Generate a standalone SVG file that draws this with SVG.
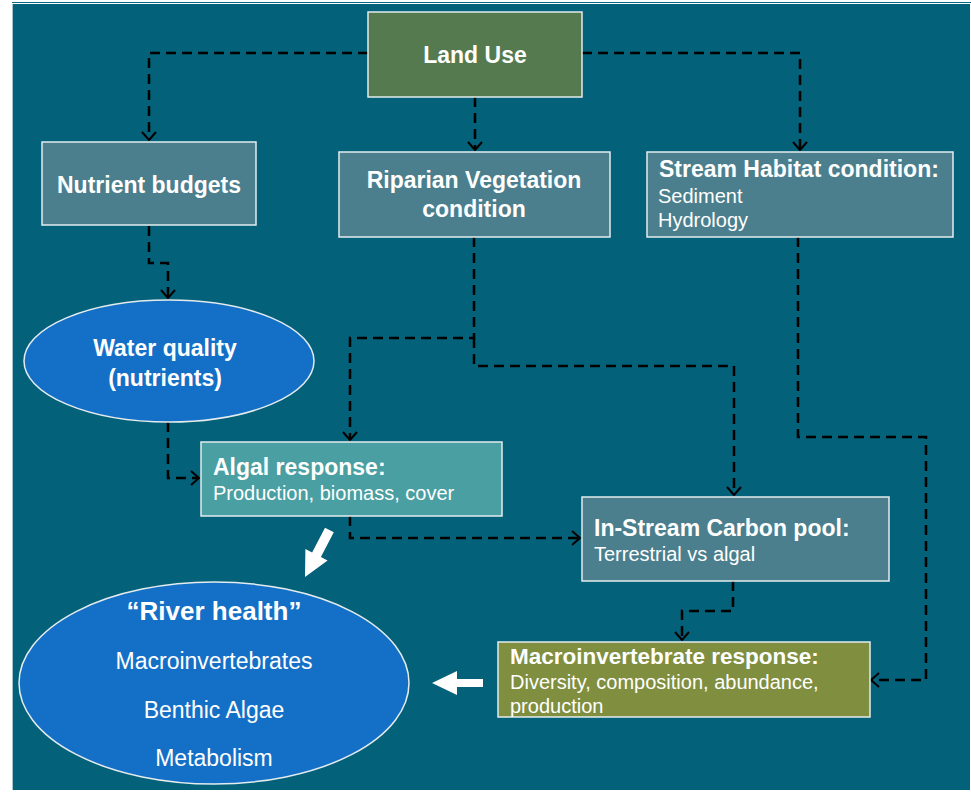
<svg xmlns="http://www.w3.org/2000/svg" width="971" height="792" viewBox="0 0 971 792">
  <style>
    .box { stroke: #e4ecee; stroke-width: 1.5; }
    .grey { fill: #4b7f8d; }
    .oval { fill: #1470c6; stroke: #e4ecee; stroke-width: 1.5; }
    .link { fill: none; stroke: #000; stroke-width: 2.5; stroke-dasharray: 10 6; marker-end: url(#head); }
    text { font-family: "Liberation Sans", Arial, sans-serif; fill: #ffffff; }
    .b { font-weight: bold; font-size: 23px; }
    .r { font-size: 20px; }
    .c { text-anchor: middle; }
  </style>
  <defs>
    <marker id="head" viewBox="-10 -8 12 16" refX="0" refY="0" markerWidth="12" markerHeight="16" markerUnits="userSpaceOnUse" orient="auto">
      <path d="M-8,-7 L0,0 L-8,7" fill="none" stroke="#000" stroke-width="2"/>
    </marker>
  </defs>

  <!-- page and slide background -->
  <rect x="0" y="0" width="971" height="792" fill="#ffffff"/>
  <line x1="12" y1="2.5" x2="971" y2="2.5" stroke="#0c6a85" stroke-width="1"/>
  <rect x="12" y="4" width="958" height="786" fill="#03617a"/>
  <line x1="12.5" y1="4" x2="12.5" y2="790" stroke="#a9c4cc" stroke-width="1"/>

  <!-- connectors -->
  <g id="connectors">
    <path class="link" d="M368,53 H149 V140"/>
    <path class="link" d="M475,97 V150"/>
    <path class="link" d="M582,53 H800 V150"/>
    <path class="link" d="M149,226 V263 H168 V298"/>
    <path class="link" d="M168,422 V478 H199"/>
    <path class="link" d="M474,237 V338 H350 V440"/>
    <path class="link" d="M474,338 V366 H734 V495"/>
    <path class="link" d="M798,237 V437 H926 V680 H871"/>
    <path class="link" d="M350,516 V538 H580"/>
    <path class="link" d="M733,581 V611 H682 V640"/>
    <!-- white block arrows into river health -->
    <polygon fill="#ffffff" points="333.8,532.3 320.9,557.1 327.6,560.5 305,577 305.4,549 312.1,552.5 325,527.7"/>
    <polygon fill="#ffffff" points="483,679 457,679 457,671 432,683 457,695 457,687 483,687"/>
  </g>

  <g id="land-use">
    <rect class="box" x="368" y="12" width="214" height="85" fill="#557a4f"/>
    <text class="b c" x="475" y="63">Land Use</text>
  </g>

  <g id="nutrient-budgets">
    <rect class="box grey" x="42" y="142" width="214" height="83"/>
    <text class="b c" x="149" y="193">Nutrient budgets</text>
  </g>

  <g id="riparian">
    <rect class="box grey" x="339" y="152" width="271" height="85"/>
    <text class="b c" x="474" y="188">Riparian Vegetation</text>
    <text class="b c" x="474" y="217">condition</text>
  </g>

  <g id="stream-habitat">
    <rect class="box grey" x="647" y="152" width="306" height="85"/>
    <text class="b" x="659" y="177">Stream Habitat condition:</text>
    <text class="r" x="658" y="203">Sediment</text>
    <text class="r" x="658" y="227">Hydrology</text>
  </g>

  <g id="water-quality">
    <ellipse class="oval" cx="169" cy="361" rx="145" ry="61"/>
    <text class="b c" x="165" y="356">Water quality</text>
    <text class="b c" x="165" y="386">(nutrients)</text>
  </g>

  <g id="algal-response">
    <rect class="box" x="201" y="442" width="301" height="74" fill="#4a9fa3"/>
    <text class="b" x="213" y="475">Algal response:</text>
    <text class="r" x="213" y="500">Production, biomass, cover</text>
  </g>

  <g id="carbon-pool">
    <rect class="box grey" x="582" y="497" width="307" height="84"/>
    <text class="b" x="594" y="536">In-Stream Carbon pool:</text>
    <text class="r" x="594" y="561">Terrestrial vs algal</text>
  </g>

  <g id="macro-response">
    <rect class="box" x="498" y="642" width="372" height="75" fill="#7f8e3f"/>
    <text class="b" x="510" y="664" style="font-size:22.5px">Macroinvertebrate response:</text>
    <text class="r" x="510" y="689">Diversity, composition, abundance,</text>
    <text class="r" x="510" y="713">production</text>
  </g>

  <g id="river-health">
    <ellipse class="oval" cx="214" cy="683" rx="195" ry="101"/>
    <text class="c" x="214" y="620" style="font-weight:bold;font-size:26px">“River health”</text>
    <text class="c" x="214" y="669" style="font-size:23px">Macroinvertebrates</text>
    <text class="c" x="214" y="718" style="font-size:23px">Benthic Algae</text>
    <text class="c" x="214" y="766" style="font-size:23px">Metabolism</text>
  </g>
</svg>
